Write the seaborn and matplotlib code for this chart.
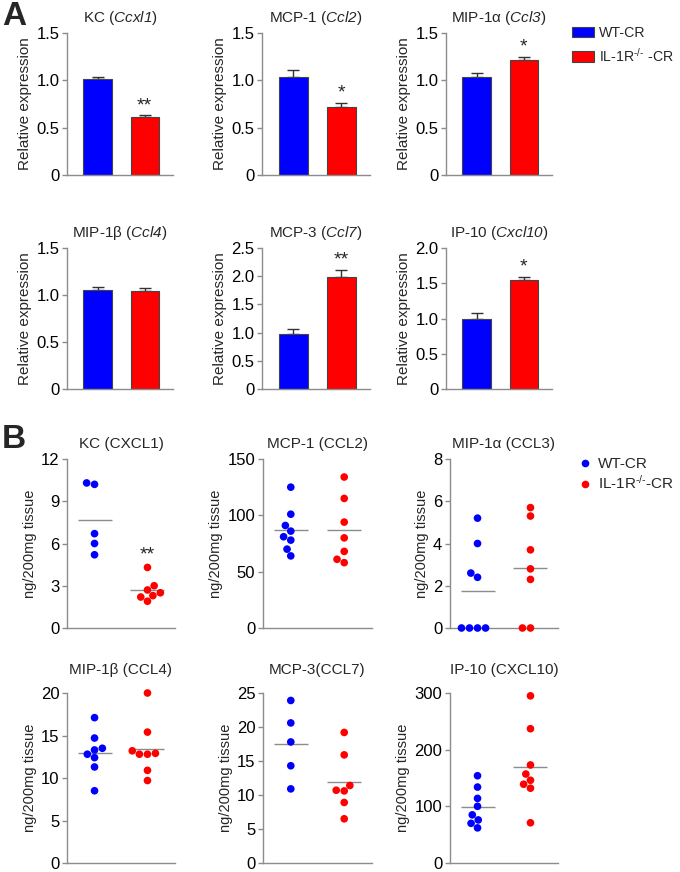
import matplotlib.pyplot as plt
import pandas as pd
import seaborn as sns
from matplotlib.lines import Line2D
from matplotlib.patches import Patch

# ---- Panel A: relative mRNA expression (mean + SEM) ----
genes_a = ["KC", "MCP-1", "MIP-1\u03b1", "MIP-1\u03b2", "MCP-3", "IP-10"]
symbols_a = ["Ccxl1", "Ccl2", "Ccl3", "Ccl4", "Ccl7", "Cxcl10"]
wt_mean = [1.01, 1.04, 1.03, 1.05, 0.98, 0.99]
wt_sem = [0.03, 0.07, 0.05, 0.03, 0.09, 0.09]
ko_mean = [0.61, 0.72, 1.22, 1.04, 1.99, 1.54]
ko_sem = [0.02, 0.04, 0.03, 0.03, 0.12, 0.05]
stars_a = ["**", "*", "*", "", "**", "*"]
ymax_a = [1.5, 1.5, 1.5, 1.5, 2.5, 2.0]

# ---- Panel B: protein per 200 mg tissue (individual mice) ----
titles_b = ["KC (CXCL1)", "MCP-1 (CCL2)", "MIP-1\u03b1 (CCL3)",
            "MIP-1\u03b2 (CCL4)", "MCP-3(CCL7)", "IP-10 (CXCL10)"]
wt_b = [
    [10.2, 10.3, 6.7, 6.0, 5.2],
    [125, 101, 91, 86, 81, 78, 70, 64],
    [5.2, 4.0, 2.6, 2.4, 0, 0, 0, 0],
    [17.1, 14.7, 13.5, 13.3, 12.8, 12.4, 11.3, 8.5],
    [23.9, 20.6, 17.8, 14.3, 10.9],
    [154, 134, 114, 100, 85, 76, 70, 62],
]
ko_b = [
    [4.3, 3.0, 2.7, 2.3, 2.2, 2.5, 1.9],
    [134, 115, 94, 80, 68, 61, 58],
    [5.7, 5.3, 3.7, 2.8, 2.3, 0, 0],
    [20.0, 15.4, 13.2, 12.8, 12.8, 12.9, 10.9, 9.7],
    [19.2, 15.9, 11.4, 10.6, 10.7, 8.9, 6.5],
    [295, 237, 173, 157, 146, 139, 132, 71],
]
stars_b = ["**", "", "", "", "", ""]
ymax_b = [12, 150, 8, 20, 25, 300]
ystep_b = [3, 50, 2, 5, 5, 100]

groups = ["WT", "KO"]
palette = {"WT": "#0000ff", "KO": "#ff0000"}

W, H = 680, 872
cols_a = [(67, 173), (262, 370), (446, 552)]
rows_a = [(33, 175), (248, 389)]
cols_b = [(67, 175), (263, 372), (450, 558)]
rows_b = [(459, 628), (693, 863)]

sns.set_theme(style="ticks")
plt.rcParams["font.family"] = ["Liberation Sans", "DejaVu Sans"]
plt.rcParams.update({
    "mathtext.fontset": "custom",
    "mathtext.rm": "Liberation Sans",
    "mathtext.it": "Liberation Sans:italic",
    # sf slot used for fully italic gene symbols (digits included)
    "mathtext.sf": "Liberation Sans:italic",
    "font.size": 11,
    "axes.edgecolor": "#8c8c8c",
    "axes.linewidth": 1.0,
    "ytick.color": "#8c8c8c",
    "ytick.labelcolor": "black",
    "ytick.major.size": 3.5,
    "ytick.major.width": 1.0,
    "ytick.labelsize": 12,
    "axes.labelsize": 11,
    "axes.titlesize": 11,
})


def px_axes(fig, cols, rows):
    x0, x1 = cols
    y0, y1 = rows
    return fig.add_axes([x0 / W, 1 - y1 / H, (x1 - x0) / W, (y1 - y0) / H])


def style_axes(ax, top, step, fmt):
    ax.set_ylim(0, top)
    ticks = [k * step for k in range(int(round(top / step)) + 1)]
    ax.set_yticks(ticks)
    ax.set_yticklabels(["0" if t == 0 else fmt.format(t) for t in ticks])
    ax.tick_params(axis="x", bottom=False, labelbottom=False)
    ax.tick_params(axis="y", pad=2)
    ax.set_xlabel("")
    sns.despine(ax=ax)


def bar_panel(ax, i):
    df = pd.DataFrame({"group": groups, "value": [wt_mean[i], ko_mean[i]]})
    sns.barplot(data=df, x="group", y="value", hue="group", order=groups,
                hue_order=groups, palette=palette, saturation=1, width=0.6,
                dodge=False, errorbar=None, edgecolor="#444444",
                linewidth=0.8, legend=False, ax=ax)
    bars = sorted(ax.patches, key=lambda p: p.get_x())
    centers = [p.get_x() + p.get_width() / 2 for p in bars]
    means = [wt_mean[i], ko_mean[i]]
    sems = [wt_sem[i], ko_sem[i]]
    ax.errorbar(centers, means, yerr=[[0, 0], sems], fmt="none",
                ecolor="#333333", elinewidth=1, capsize=4, capthick=1,
                zorder=0.5)
    if stars_a[i]:
        ax.annotate(stars_a[i], xy=(centers[1], ko_mean[i] + ko_sem[i]),
                    xytext=(0, 1), textcoords="offset points",
                    ha="center", va="bottom", fontsize=14)
    ax.set_xlim(-0.65, 1.6)
    style_axes(ax, ymax_a[i], 0.5, "{:.1f}")
    ax.set_ylabel("Relative expression", labelpad=3)
    ax.set_title(genes_a[i] + r" ($\mathsf{" + symbols_a[i] + "}$)", pad=8)


def dot_panel(ax, i):
    wt, ko = wt_b[i], ko_b[i]
    df = pd.DataFrame({"group": ["WT"] * len(wt) + ["KO"] * len(ko),
                       "value": wt + ko})
    sns.swarmplot(data=df, x="group", y="value", hue="group", order=groups,
                  hue_order=groups, palette=palette, size=5.5, linewidth=0,
                  legend=False, clip_on=False, ax=ax)
    sns.pointplot(data=df, x="group", y="value", order=groups,
                  estimator="mean", errorbar=None, color="#8c8c8c",
                  marker="_", markersize=25, markeredgewidth=1,
                  linestyle="none", ax=ax)
    if stars_b[i]:
        ax.annotate(stars_b[i], xy=(1, max(ko)), xytext=(0, 3),
                    textcoords="offset points", ha="center", va="bottom",
                    fontsize=14)
    ax.set_xlim(-0.52, 1.52)
    style_axes(ax, ymax_b[i], ystep_b[i], "{:g}")
    ax.set_ylabel("ng/200mg tissue", fontsize=10.5, labelpad=3)
    ax.set_title(titles_b[i], pad=8 if i < 3 else 14)


fig = plt.figure(figsize=(W / 100, H / 100), dpi=100)

for i in range(6):
    ax = px_axes(fig, cols_a[i % 3], rows_a[i // 3])
    bar_panel(ax, i)

for i in range(6):
    ax = px_axes(fig, cols_b[i % 3], rows_b[i // 3])
    dot_panel(ax, i)

fig.text(2 / W, 1 - 1 / H, "A", fontsize=24, fontweight="bold", va="top")
fig.text(2 / W, 1 - 424 / H, "B", fontsize=24, fontweight="bold", va="top")

ko_label = r"IL-1R$^{\text{-/-}}$"
bar_handles = [Patch(facecolor=palette[g], edgecolor="#444444", linewidth=0.8)
               for g in groups]
fig.legend(bar_handles, ["WT-CR", ko_label + " -CR"], loc="upper left",
           bbox_to_anchor=(572 / W, 1 - 26 / H), frameon=False, borderpad=0,
           borderaxespad=0, handlelength=1.55, handleheight=0.75,
           handletextpad=0.35, labelspacing=0.45, fontsize=10.2)

dot_handles = [Line2D([], [], marker="o", linestyle="none", markersize=5.5,
                      markerfacecolor=palette[g], markeredgewidth=0)
               for g in groups]
fig.legend(dot_handles, ["WT-CR", ko_label + "-CR"], loc="upper left",
           bbox_to_anchor=(577 / W, 1 - 457 / H), frameon=False, borderpad=0,
           borderaxespad=0, handlelength=1.0, handletextpad=0.4,
           labelspacing=0.2, fontsize=11)

fig.savefig("out.png", dpi=100)
